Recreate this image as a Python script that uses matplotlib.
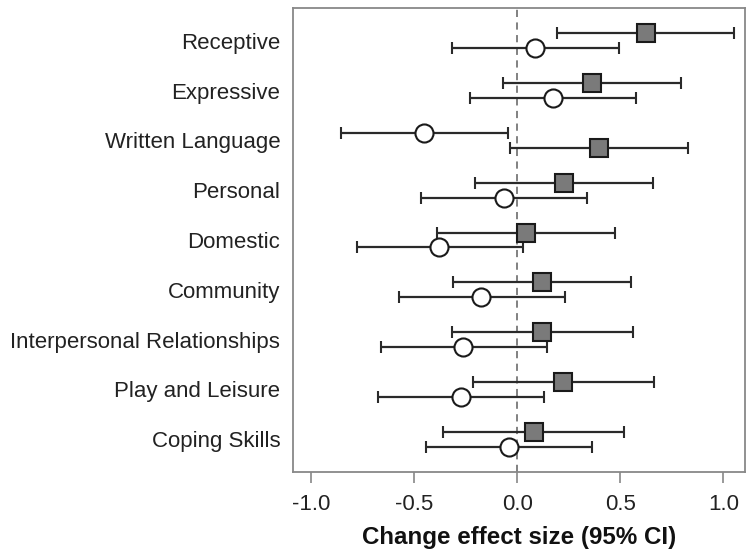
import matplotlib
matplotlib.use("Agg")
import matplotlib.pyplot as plt
import numpy as np

plt.rcParams['font.family'] = ['Liberation Sans', 'DejaVu Sans']

categories = ["Receptive", "Expressive", "Written Language", "Personal", "Domestic",
              "Community", "Interpersonal Relationships", "Play and Leisure", "Coping Skills"]

# square (filled grey) series
sq_est = [0.623, 0.361, 0.397, 0.225, 0.044, 0.121, 0.121, 0.223, 0.081]
sq_lo = [0.191, -0.071, -0.035, -0.207, -0.390, -0.312, -0.319, -0.217, -0.361]
sq_hi = [1.053, 0.795, 0.827, 0.657, 0.474, 0.552, 0.563, 0.662, 0.518]

# circle (open) series
ci_est = [0.086, 0.172, -0.453, -0.065, -0.379, -0.175, -0.264, -0.273, -0.039]
ci_lo = [-0.319, -0.228, -0.856, -0.466, -0.780, -0.576, -0.663, -0.678, -0.442]
ci_hi = [0.492, 0.576, -0.047, 0.340, 0.026, 0.233, 0.143, 0.131, 0.363]

# which series sits on the upper sub-row of each category
square_on_top = [True, True, False, True, True, True, True, True, True]

xticks = [-1.0, -0.5, 0.0, 0.5, 1.0]
xlabel = "Change effect size (95% CI)"

fig = plt.figure(figsize=(7.52, 5.49), dpi=100)
ax = fig.add_axes([0.3892, 0.1408, 0.9907 - 0.3892, 0.9849 - 0.1408])

rows = np.arange(1, len(categories) + 1)
off = 0.15
sq_y = np.array([r - off if t else r + off for r, t in zip(rows, square_on_top)])
ci_y = np.array([r + off if t else r - off for r, t in zip(rows, square_on_top)])

ax.axvline(0, color="#777777", linestyle=(0, (4, 3)), linewidth=1.3, zorder=1)

line_c = "#2a2a2a"
sq_est_a = np.array(sq_est)
ci_est_a = np.array(ci_est)
ax.errorbar(sq_est_a, sq_y,
            xerr=[sq_est_a - np.array(sq_lo), np.array(sq_hi) - sq_est_a],
            fmt='s', color=line_c, ecolor=line_c, elinewidth=1.6, capsize=4.5, capthick=1.6,
            markersize=13, markerfacecolor="#7a7a7a", markeredgecolor="#1a1a1a",
            markeredgewidth=1.5, zorder=3)
ax.errorbar(ci_est_a, ci_y,
            xerr=[ci_est_a - np.array(ci_lo), np.array(ci_hi) - ci_est_a],
            fmt='o', color=line_c, ecolor=line_c, elinewidth=1.6, capsize=4.5, capthick=1.6,
            markersize=13, markerfacecolor="white", markeredgecolor="#1a1a1a",
            markeredgewidth=1.5, zorder=3)

ax.set_xlim(-1.09, 1.105)
ax.set_ylim(9.654, 0.346)
ax.set_yticks(rows)
ax.set_yticklabels(categories, fontsize=16, color="#222222")
ax.tick_params(axis='y', length=0, pad=9)
ax.set_xticks(xticks)
ax.set_xticklabels([f"{t:.1f}" for t in xticks], fontsize=16, color="#222222")
ax.tick_params(axis='x', length=7.7, width=1.2, color="#888888", pad=8)
ax.set_xlabel(xlabel, fontsize=17.4, fontweight='bold', color="#111111", labelpad=8)

for s in ax.spines.values():
    s.set_color("#888888")
    s.set_linewidth(1.3)

fig.savefig("out.png", dpi=100)
